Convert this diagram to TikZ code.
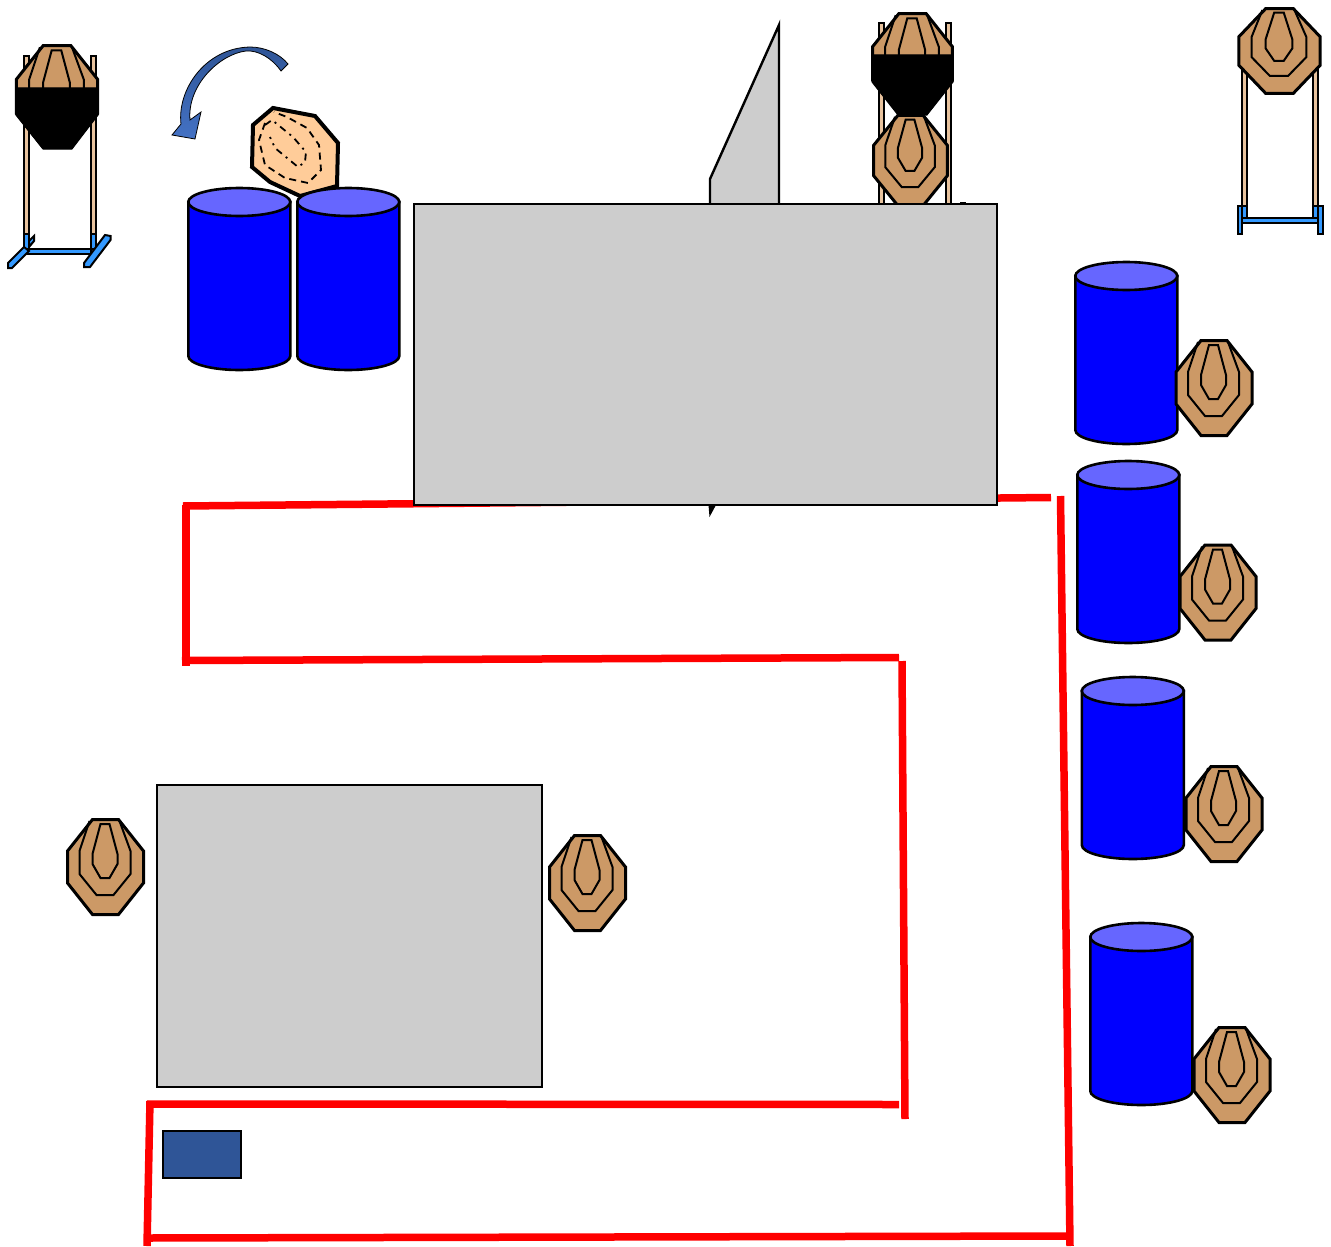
\documentclass[tikz,border=0pt]{standalone}
\definecolor{tan1}{HTML}{CC9966}
\definecolor{post}{HTML}{E8C39E}
\definecolor{base}{HTML}{3399FF}
\definecolor{peel}{HTML}{FFCC99}
\definecolor{drum}{HTML}{0000FF}
\definecolor{drumtop}{HTML}{6666FF}
\definecolor{wall}{HTML}{CDCDCD}
\definecolor{mark}{HTML}{2F5597}
\definecolor{arrowlight}{HTML}{4472C4}
\definecolor{tape}{HTML}{FF0000}
\tikzset{
  outline/.style={draw=black,line width=3pt,fill=tan1,line join=miter},
  ring/.style={draw=black,line width=2pt,line join=miter},
  barrier/.style={draw=black,fill=wall,line width=2.4pt,line join=miter},
  tapeline/.style={draw=tape,line width=7.5pt},
  drumside/.style={draw=black,fill=drum,line width=2.6pt},
  drumcap/.style={draw=black,fill=drumtop,line width=2.6pt},
  poststyle/.style={draw=black,fill=post,line width=2pt},
  basestyle/.style={draw=black,fill=base,line width=2pt,line join=miter},
  blackout/.style={fill=black,draw=black,line width=1pt}
}
\newcommand{\tgt}[4]{%
  \begin{scope}[shift={(#1,#2)},xscale=#3,yscale=#4]
    \draw[outline] (-13,-47.5)--(13,-47.5)--(38,-16)--(38,16)--(13,47.5)--(-13,47.5)--(-38,16)--(-38,-16)--cycle;
    \draw[ring] (-16,-46)--(-26,-16)--(-26,7)--(-9,28)--(8,28)--(25,7)--(25,-16)--(14,-46);
    \draw[ring] (-5,-43)--(4,-43)--(12,-13)--(12,-3)--(4,11)--(-5,11)--(-13,-3)--(-13,-13)--cycle;
  \end{scope}}
\newcommand{\barrel}[3]{%
  \draw[drumside] (#1+0.3,#2) -- (#1+0.3,#3) arc[start angle=180,end angle=0,x radius=51,y radius=14]
     -- ++(0,-#3+#2) -- cycle;
  \draw[drumcap] (#1+51.3,#2) ellipse[x radius=51,y radius=14];}
\begin{document}
\begin{tikzpicture}[x=1pt,y=-1pt]
\useasboundingbox (0,0) rectangle (1331,1247);
% tape
\draw[tapeline] (183,506) -- (1051,497.5);
\draw[tapeline] (186,505) -- (186,666);
\draw[tapeline] (182,660.5) -- (899,657.5);
\draw[tapeline] (902,661) -- (905,1119);
\draw[tapeline] (899,1104.5) -- (147,1104);
\draw[tapeline] (150,1101) -- (147,1246);
\draw[tapeline] (147,1238) -- (1070,1236);
\draw[tapeline] (1070,1246) -- (1060.5,496);
% stand 1
\draw[poststyle] (23.5,56) rectangle (28.5,234);
\draw[poststyle] (91,56) rectangle (96,234);
\draw[basestyle] (29,247) -- (29,241) -- (34,236) -- (34,241) -- cycle;
\draw[basestyle] (23.5,233.5) rectangle (29,249);
\draw[basestyle] (90.5,233.5) rectangle (96,249);
\draw[basestyle] (23,248.5) rectangle (91,254);
\draw[basestyle] (8,263) -- (24,247) -- (29,251) -- (12,268) -- (8,268) -- cycle;
\draw[basestyle] (84,263) -- (105,235) -- (110.5,236) -- (110.5,240) -- (90,267) -- (84,267) -- cycle;
\tgt{57}{96.5}{1.07}{1.07}
\draw[blackout] (16,88) -- (98,88) -- (98,115) -- (72,149) -- (43,149) -- (16,115) -- cycle;
% arrow
\draw[draw=black,line width=0.8pt,top color=mark,bottom color=arrowlight]
  (288,64) -- (281,71)
  .. controls (272,58) and (258,50) .. (246,51)
  .. controls (220,54) and (187,85) .. (190,120)
  -- (201,112) -- (195,139) -- (172,135) -- (181,124)
  .. controls (177,90) and (205,48) .. (250,47)
  .. controls (265,47) and (280,54) .. (288,64) -- cycle;
% peeled target
\draw[draw=black,fill=peel,line width=4pt,line join=miter]
  (273,108) -- (315,116) -- (338,143) -- (337,186) -- (300,196) -- (270,182) -- (252,167) -- (253,125) -- cycle;
\draw[black,line width=1.8pt,dash pattern=on 7pt off 5pt]
  (265,123) -- (259,140) -- (265,165) -- (285,178) -- (308,183) -- (321,170) -- (319,145) -- (307,128) -- (287,117) -- (274,112);
\draw[black,line width=1.8pt,dash pattern=on 7pt off 5pt on 2pt off 5pt]
  (265,125) -- (272,120) -- (293,137) -- (306,152) -- (305,162) -- (298,167) -- (275,148) -- (270,137);
% barrels
\barrel{188}{202}{356}
\barrel{297}{202}{356}
% right side
\barrel{1075}{276}{430}
\tgt{1214}{388}{1}{1}
\barrel{1077}{475}{629}
\tgt{1218}{592.5}{1}{1}
\barrel{1081.5}{691}{845}
\tgt{1224}{814}{1}{1}
\barrel{1090}{937}{1091}
\tgt{1232}{1075}{1}{1}
% triangle wall and tip
\draw[barrier] (710,206) -- (710,179) -- (779,25) -- (779,206) -- cycle;
\fill[black] (708.5,505) -- (709.5,517) -- (716,505) -- cycle;
% stand 2
\draw[poststyle] (878.5,23) rectangle (884,206);
\draw[poststyle] (946,23) rectangle (951,206);
\tgt{912.5}{63.5}{1.05}{1.05}
\tgt{910.5}{160.5}{0.97}{0.95}
\draw[blackout] (872,55) -- (953,55) -- (953,82) -- (927,115) -- (898,115) -- (872,82) -- cycle;
\draw[black,line width=1.5pt] (960,202.5) -- (966,202.5);
% main walls
\draw[barrier] (414,204) rectangle (997,505);
\draw[barrier] (157,785) rectangle (542,1087);
\tgt{105.5}{867}{1}{1}
\tgt{587.5}{883}{1}{1}
% stand 3
\draw[poststyle] (1242,70) rectangle (1247,207);
\draw[poststyle] (1313,70) rectangle (1318,207);
\draw[basestyle] (1237.5,206) rectangle (1247,218);
\draw[basestyle] (1313,206) rectangle (1322.5,218);
\draw[basestyle] (1237.5,206) rectangle (1242,234);
\draw[basestyle] (1318,206) rectangle (1322.5,234);
\draw[basestyle] (1242,217.5) rectangle (1318,223);
\tgt{1279.5}{51}{1.07}{0.89}
% start marker
\draw[draw=black,fill=mark,line width=2pt] (163,1131) rectangle (241,1178);
\end{tikzpicture}
\end{document}
